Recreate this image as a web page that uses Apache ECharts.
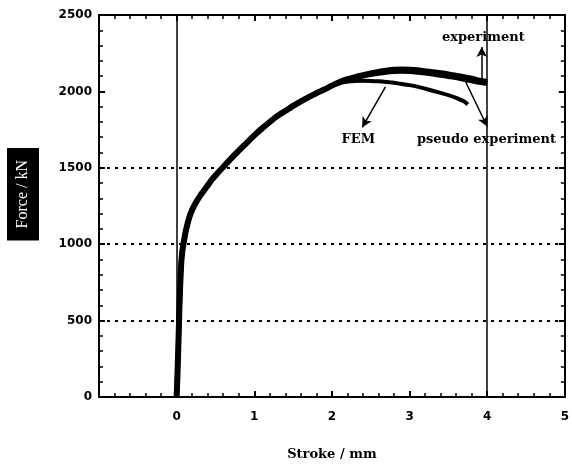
<!DOCTYPE html>
<html>
<head>
<meta charset="utf-8">
<script src="https://cdn.jsdelivr.net/npm/echarts@6/dist/echarts.min.js"></script>
<style>
  html, body { margin: 0; padding: 0; background: #fff; }
  #chart { width: 572px; height: 466px; }
</style>
</head>
<body>
<div id="chart"></div>
<script>
// common rising part (all curves overlap here)
const riseStroke = [0, 0.01, 0.02, 0.03, 0.04, 0.05, 0.06, 0.07, 0.09, 0.12, 0.16, 0.2, 0.25, 0.3, 0.35, 0.4, 0.45, 0.5, 0.55, 0.6, 0.7, 0.8, 0.9, 1.0, 1.1, 1.2, 1.3, 1.4, 1.5, 1.6, 1.7, 1.8, 1.9, 2.0];
const riseForce  = [0, 140, 300, 480, 650, 780, 880, 940, 1010, 1090, 1170, 1225, 1275, 1315, 1350, 1385, 1420, 1450, 1478, 1505, 1560, 1612, 1662, 1712, 1758, 1800, 1840, 1872, 1905, 1935, 1962, 1988, 2012, 2038];

// tails after the curves split
const expStroke    = [2.1, 2.2, 2.3, 2.4, 2.5, 2.6, 2.7, 2.8, 2.9, 3.0, 3.1, 3.2, 3.3, 3.4, 3.5, 3.6, 3.7, 3.8, 3.9, 4.0];
const expForce     = [2062, 2080, 2094, 2106, 2118, 2128, 2136, 2142, 2144, 2142, 2138, 2132, 2126, 2119, 2111, 2102, 2093, 2083, 2070, 2062];
const pseudoStroke = [2.1, 2.2, 2.3, 2.4, 2.5, 2.6, 2.7, 2.8, 2.9, 3.0, 3.1, 3.2, 3.3, 3.4, 3.5, 3.6, 3.7, 3.8, 3.9, 4.0];
const pseudoForce  = [2058, 2074, 2088, 2100, 2110, 2119, 2126, 2130, 2132, 2130, 2126, 2120, 2113, 2106, 2098, 2090, 2080, 2070, 2060, 2052];
const femStroke    = [2.1, 2.2, 2.3, 2.4, 2.5, 2.6, 2.7, 2.8, 2.9, 3.0, 3.1, 3.2, 3.3, 3.4, 3.5, 3.6, 3.7, 3.75];
const femForce     = [2056, 2064, 2068, 2069, 2068, 2066, 2062, 2056, 2049, 2041, 2031, 2018, 2004, 1990, 1976, 1958, 1935, 1915];

const xTicks = [-1, 5];
const yTicks = [0, 2500];
const gridLevels = [500, 1000, 1500];
const markerStrokes = [0, 4];

function pairs(xs, ys) {
  return xs.map((x, i) => [x, ys[i]]);
}

const chart = echarts.init(document.getElementById('chart'), null, { renderer: 'canvas' });

const boldSans = { fontFamily: 'DejaVu Sans', fontWeight: 'bold', fontSize: 12, color: '#000' };
const boldSerif = { fontFamily: 'DejaVu Serif', fontWeight: 'bold', fontSize: 13, color: '#000' };

const baseX = {
  type: 'value', min: xTicks[0], max: xTicks[1], interval: 1,
  axisLine: { show: true, onZero: false, lineStyle: { color: '#000', width: 2 } },
  axisTick: { show: true, inside: true, length: 6, lineStyle: { color: '#000', width: 2 } },
  minorTick: { show: true, splitNumber: 5, length: 4, lineStyle: { color: '#000', width: 1.5 } },
  splitLine: { show: false }
};
const baseY = {
  type: 'value', min: yTicks[0], max: yTicks[1], interval: 500,
  axisLine: { show: true, onZero: false, lineStyle: { color: '#000', width: 2 } },
  axisTick: { show: true, inside: true, length: 6, lineStyle: { color: '#000', width: 2 } },
  minorTick: { show: true, splitNumber: 5, length: 4, lineStyle: { color: '#000', width: 1.5 } },
  splitLine: { show: false }
};

const option = {
  animation: false,
  backgroundColor: '#fff',
  grid: { left: 99, right: 4, top: 15, bottom: 68 },
  xAxis: [
    Object.assign({}, baseX, {
      position: 'bottom',
      name: 'Stroke / mm', nameLocation: 'middle', nameGap: 51,
      nameTextStyle: boldSerif,
      axisLabel: Object.assign({ margin: 14, formatter: v => (v < 0 ? '' : String(v)) }, boldSans)
    }),
    Object.assign({}, baseX, { position: 'top', axisLabel: { show: false } })
  ],
  yAxis: [
    Object.assign({}, baseY, {
      position: 'left',
      axisLabel: Object.assign({ margin: 7, formatter: v => String(v) }, boldSans)
    }),
    Object.assign({}, baseY, { position: 'right', axisLabel: { show: false } })
  ],
  graphic: [{
    type: 'text', left: 7, top: 148, rotation: Math.PI / 2,
    style: {
      text: 'Force / kN', fill: '#fff', backgroundColor: '#000',
      font: '16px "Liberation Serif"', padding: [8, 12, 8, 12]
    }
  }],
  series: [
    {
      name: 'FEM', type: 'line', showSymbol: false, smooth: 0.3,
      data: pairs(riseStroke.concat(femStroke), riseForce.concat(femForce)),
      lineStyle: { color: '#000', width: 4 }, z: 3,
      markLine: {
        silent: true, symbol: 'none', label: { show: false },
        data: gridLevels.map(v => ({ yAxis: v, lineStyle: { type: [3, 5], width: 2, color: '#000' } }))
          .concat(markerStrokes.map(v => ({ xAxis: v, lineStyle: { type: 'solid', width: 1.5, color: '#000' } })))
      }
    },
    {
      name: 'pseudo experiment', type: 'line', showSymbol: false, smooth: 0.3,
      data: pairs(riseStroke.concat(pseudoStroke), riseForce.concat(pseudoForce)),
      lineStyle: { color: '#000', width: 5 }, z: 3
    },
    {
      name: 'experiment', type: 'line', showSymbol: false, smooth: 0.3,
      data: pairs(riseStroke.concat(expStroke), riseForce.concat(expForce)),
      lineStyle: { color: '#000', width: 6 }, z: 4,
      markLine: {
        silent: true, symbol: ['none', 'arrow'], symbolSize: [8, 10], label: { show: false },
        lineStyle: { color: '#000', width: 1.5, type: 'solid' },
        data: [
          [{ coord: [3.93, 2070] }, { coord: [3.93, 2290] }],
          [{ coord: [3.72, 2065] }, { coord: [4.0, 1770] }],
          [{ coord: [2.69, 2030] }, { coord: [2.39, 1765] }]
        ]
      },
      markPoint: {
        silent: true, symbol: 'circle', symbolSize: 0,
        label: Object.assign({ show: true, position: 'inside', formatter: p => p.name }, boldSerif),
        data: [
          { name: 'experiment', coord: [3.95, 2350] },
          { name: 'pseudo experiment', coord: [3.99, 1684] },
          { name: 'FEM', coord: [2.34, 1684] }
        ]
      }
    }
  ]
};

chart.setOption(option);
</script>
</body>
</html>
